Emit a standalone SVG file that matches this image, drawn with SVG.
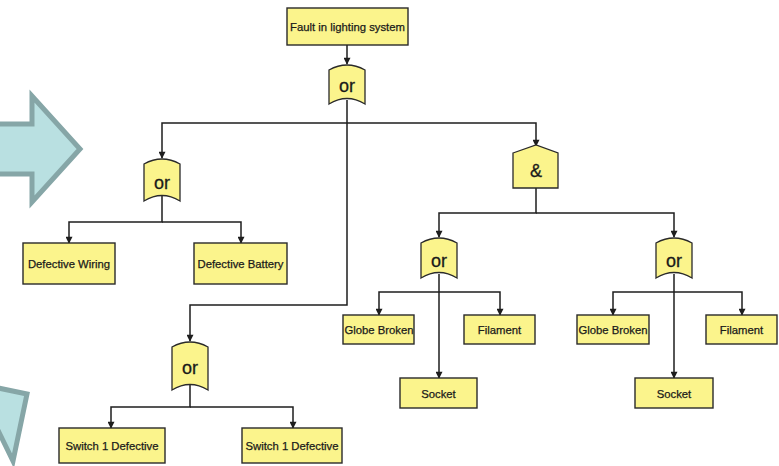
<svg xmlns="http://www.w3.org/2000/svg" width="779" height="466" viewBox="0 0 779 466">
  <style>
    .box { fill: #fbf48c; stroke: #2a2a2a; stroke-width: 1.4; }
    .gate { fill: #fbf48c; stroke: #2a2a2a; stroke-width: 1.3; }
    .lbl { font-family: "Liberation Sans", Arial, sans-serif; font-size: 11.3px; fill: #1a1a1a; stroke: #1a1a1a; stroke-width: 0.25; text-anchor: middle; }
    .glbl { font-family: "Liberation Sans", Arial, sans-serif; font-size: 18px; fill: #1a1a1a; stroke: #1a1a1a; stroke-width: 0.3; text-anchor: middle; }
    .wire { fill: none; stroke: #1e1e1e; stroke-width: 1.5; }
    .deco { fill: #b9e0e1; stroke: #86a6a7; stroke-width: 5; stroke-linejoin: miter; }
  </style>
  <defs>
    <marker id="tip" viewBox="0 0 10 10" refX="9" refY="5" markerWidth="8" markerHeight="7" orient="auto" markerUnits="userSpaceOnUse">
      <path d="M0,0 L10,5 L0,10 Z" fill="#1e1e1e"/>
    </marker>
    <clipPath id="clipG1"><rect x="343" y="315" width="71" height="29"/></clipPath>
    <clipPath id="clipG2"><rect x="577" y="315" width="72" height="29"/></clipPath>
  </defs>

  <rect width="779" height="466" fill="#ffffff"/>

  <!-- decorative block arrows at the left edge -->
  <polygon class="deco" points="-10,124 32,124 32,96 80,149 32,202 32,174 -10,174"/>
  <polygon class="deco" points="-40,380 27,394 13,461 -8,418"/>

  <!-- connectors -->
  <g id="connectors">
    <path class="wire" d="M347,45 V64" marker-end="url(#tip)"/>
    <path class="wire" d="M347,100 V305 H190 V341" marker-end="url(#tip)"/>
    <path class="wire" d="M347,123 H162 V158" marker-end="url(#tip)"/>
    <path class="wire" d="M347,123 H536 V146" marker-end="url(#tip)"/>
    <!-- left or -->
    <path class="wire" d="M162,196 V222 H69 V243" marker-end="url(#tip)"/>
    <path class="wire" d="M162,222 H241 V243" marker-end="url(#tip)"/>
    <!-- and gate -->
    <path class="wire" d="M536,188 V213 H439 V237" marker-end="url(#tip)"/>
    <path class="wire" d="M536,213 H674 V237" marker-end="url(#tip)"/>
    <!-- left sub-or -->
    <path class="wire" d="M439,274 V378" marker-end="url(#tip)"/>
    <path class="wire" d="M439,292 H379 V315" marker-end="url(#tip)"/>
    <path class="wire" d="M439,292 H500 V315" marker-end="url(#tip)"/>
    <!-- right sub-or -->
    <path class="wire" d="M674,274 V378" marker-end="url(#tip)"/>
    <path class="wire" d="M674,292 H613 V315" marker-end="url(#tip)"/>
    <path class="wire" d="M674,292 H742 V315" marker-end="url(#tip)"/>
    <!-- lower or -->
    <path class="wire" d="M190,384 V407 H111 V428" marker-end="url(#tip)"/>
    <path class="wire" d="M190,407 H293 V428" marker-end="url(#tip)"/>
  </g>

  <!-- top event -->
  <g id="top">
    <rect class="box" x="287" y="8" width="121" height="37"/>
    <text class="lbl" x="347.5" y="30.5">Fault in lighting system</text>
  </g>

  <!-- gates -->
  <g id="or-top">
    <path class="gate" d="M329,70 Q347,60 365,70 V104 Q347,93 329,104 Z"/>
    <text class="glbl" x="347" y="92">or</text>
  </g>
  <g id="or-left">
    <path class="gate" d="M144,164 Q162,154 180,164 V201 Q162,190 144,201 Z"/>
    <text class="glbl" x="162" y="189">or</text>
  </g>
  <g id="and-gate">
    <path class="gate" d="M513,153 L536,145 L558,153 V188 H513 Z"/>
    <text class="glbl" x="536" y="177">&amp;</text>
  </g>
  <g id="or-mid">
    <path class="gate" d="M421,243 Q439,233 457,243 V278 Q439,267 421,278 Z"/>
    <text class="glbl" x="439" y="267">or</text>
  </g>
  <g id="or-right">
    <path class="gate" d="M656,243 Q674,233 692,243 V278 Q674,267 656,278 Z"/>
    <text class="glbl" x="674" y="267">or</text>
  </g>
  <g id="or-low">
    <path class="gate" d="M172,347 Q190,337 208,347 V390 Q190,379 172,390 Z"/>
    <text class="glbl" x="190" y="374">or</text>
  </g>

  <!-- basic events -->
  <g id="wiring">
    <rect class="box" x="23" y="243" width="92" height="41"/>
    <text class="lbl" x="69" y="268">Defective Wiring</text>
  </g>
  <g id="battery">
    <rect class="box" x="194" y="243" width="93" height="41"/>
    <text class="lbl" x="240.5" y="268">Defective Battery</text>
  </g>
  <g id="globe-1">
    <rect class="box" x="343" y="315" width="71" height="29"/>
    <text class="lbl" x="344.5" y="334" style="text-anchor:start" clip-path="url(#clipG1)">Globe Broken</text>
  </g>
  <g id="filament-1">
    <rect class="box" x="464" y="315" width="71" height="29"/>
    <text class="lbl" x="499.5" y="334">Filament</text>
  </g>
  <g id="socket-1">
    <rect class="box" x="400" y="378" width="77" height="30"/>
    <text class="lbl" x="438.5" y="397.5">Socket</text>
  </g>
  <g id="globe-2">
    <rect class="box" x="577" y="315" width="72" height="29"/>
    <text class="lbl" x="578.5" y="334" style="text-anchor:start" clip-path="url(#clipG2)">Globe Broken</text>
  </g>
  <g id="filament-2">
    <rect class="box" x="706" y="315" width="71" height="29"/>
    <text class="lbl" x="741.5" y="334">Filament</text>
  </g>
  <g id="socket-2">
    <rect class="box" x="635" y="378" width="78" height="30"/>
    <text class="lbl" x="674" y="397.5">Socket</text>
  </g>
  <g id="switch-1">
    <rect class="box" x="59" y="428" width="106" height="35"/>
    <text class="lbl" x="112" y="449.5">Switch 1 Defective</text>
  </g>
  <g id="switch-2">
    <rect class="box" x="242" y="428" width="100" height="35"/>
    <text class="lbl" x="292" y="449.5">Switch 1 Defective</text>
  </g>
</svg>
